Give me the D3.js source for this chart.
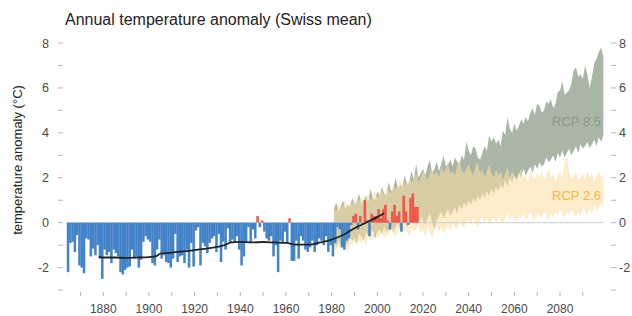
<!DOCTYPE html>
<html>
<head>
<meta charset="utf-8">
<script src="https://cdn.jsdelivr.net/npm/d3@7"></script>
<style>
  body { margin: 0; background: #fff; }
  svg { display: block; font-family: "Liberation Sans", Arial, sans-serif; }
</style>
</head>
<body>
<div id="chart-area"></div>
<script>
// Annual temperature anomaly (Swiss mean), values in °C

// observed annual anomalies, one per year from firstYear
const firstYear = 1864;
const observed = [
  -2.2, -0.9, -0.85, -1.3, -0.55, -1.9, -2.0, -2.25, -0.7, -0.75,   // 1864-1873
  -1.5, -1.15, -1.45, -1.0, -1.6, -2.5, -1.2, -1.45, -1.3, -1.8,    // 1874-1883
  -1.2, -1.35, -1.5, -2.2, -2.3, -2.1, -2.0, -1.95, -1.2, -1.6,     // 1884-1893
  -1.5, -2.0, -1.65, -0.85, -0.6, -0.75, -0.85, -1.8, -1.9, -1.2,   // 1894-1903
  -0.75, -1.6, -1.45, -1.75, -1.8, -2.0, -1.6, -0.5, -1.75, -1.5,   // 1904-1913
  -1.45, -1.8, -1.2, -2.0, -0.9, -1.95, -0.35, -0.2, -1.9, -0.9,    // 1914-1923
  -1.05, -1.35, -0.9, -0.7, -0.6, -1.3, -0.5, -1.75, -0.85, -1.2,   // 1924-1933
  -0.25, -0.9, -0.75, -0.9, -0.6, -1.2, -1.9, -1.5, -0.9, -0.2,     // 1934-1943
  -0.9, -0.3, -0.7, 0.3, -0.2, 0.1, -0.4, -0.7, -0.8, -0.6,         // 1944-1953
  -1.5, -1.0, -2.2, -0.8, -0.9, -0.4, -0.9, 0.2, -1.7, -1.7,        // 1954-1963
  -0.8, -1.6, -0.6, -0.8, -1.2, -1.3, -1.1, -0.8, -1.3, -1.0,       // 1964-1973
  -0.7, -0.8, -1.0, -0.6, -1.3, -1.0, -1.5, -0.9, -0.2, -0.3,       // 1974-1983
  -1.1, -1.2, -0.8, -0.7, -0.1, 0.3, 0.4, -0.3, 0.3, -0.1,          // 1984-1993
  1.0, 0.1, -0.6, 0.4, 0.3, 0.3, 0.6, 0.2, 0.6, 0.8,                // 1994-2003
  0.1, -0.3, 0.5, 0.8, 0.3, 0.5, -0.4, 1.2, 0.5, -0.1,              // 2004-2013
  1.1, 1.3, 0.7, 0.7                                                // 2014-2017
];

// smoothed observations (black line)
const smoothYears = [1878, 1880, 1885, 1890, 1895, 1900, 1903, 1905, 1910, 1915, 1920,
  1925, 1930, 1933, 1936, 1940, 1945, 1950, 1955, 1960, 1965, 1970, 1975, 1980,
  1985, 1990, 1995, 2000, 2003];
const smoothValues = [-1.52, -1.55, -1.55, -1.57, -1.55, -1.53, -1.5, -1.38, -1.33, -1.28, -1.22,
  -1.15, -1.08, -1.0, -0.88, -0.85, -0.88, -0.86, -0.88, -0.9, -0.98, -0.98, -0.88, -0.75,
  -0.55, -0.25, 0.0, 0.25, 0.42];

// scenario ranges, one value per year 1981-2099
const bandYears = d3.range(1981, 2100);
const rcp85Hi = [
  0.6, 0.9, 0.5, 0.7, 1.0, 0.6, 0.8, 0.7, 1.1, 0.8,
  0.9, 1.3, 0.8, 1.0, 1.2, 0.9, 1.5, 1.1, 1.0, 1.4,
  1.2, 1.6, 1.3, 1.2, 1.8, 1.4, 1.5, 2.0, 1.5, 1.7,
  1.6, 2.1, 1.7, 1.8, 2.3, 1.9, 2.6, 2.0, 2.2, 2.4,
  2.1, 2.5, 2.8, 2.2, 2.4, 2.7, 2.3, 2.6, 3.0, 2.5,
  2.6, 2.8, 2.5, 2.9, 2.7, 2.6, 3.0, 2.8, 3.6, 3.2,
  3.0, 3.4, 3.3, 2.9, 2.8, 3.1, 3.4, 3.2, 3.9, 3.6,
  3.8, 3.5, 3.7, 3.4, 4.1, 3.9, 4.7, 4.2, 4.0, 4.4,
  4.1, 4.3, 4.6, 4.4, 4.7, 4.5, 4.9, 5.1, 4.8, 5.3,
  5.2, 4.9, 5.0, 5.4, 5.3, 5.5, 5.1, 5.3, 5.8, 5.9,
  6.3, 5.7, 5.8, 5.9, 6.2, 6.8, 6.9, 6.5, 6.6, 6.4,
  7.0, 6.6, 6.0, 6.5, 7.1, 7.3, 7.6, 7.8, 7.4
];
const rcp85Lo = [
  -0.9, -1.1, -0.8, -1.0, -0.7, -0.9, -1.0, -0.6, -0.8, -0.7,
  -0.9, -0.5, -0.6, -0.8, -0.4, -0.6, -0.5, -0.3, -0.7, -0.4,
  -0.3, -0.5, -0.2, -0.4, -0.3, -0.1, -0.4, -0.2, 0.0, -0.3,
  -0.1, 0.1, -0.2, 0.0, 0.2, -0.1, 0.1, 0.0, 0.3, 0.1,
  -0.1, 0.2, 0.4, 0.0, -0.3, 0.1, 0.3, 0.5, 0.2, 0.4,
  0.6, 0.3, 0.5, 0.7, 0.4, 0.8, 0.6, 0.9, 0.7, 1.0,
  0.8, 1.1, 0.9, 1.2, 1.0, 1.3, 1.1, 1.4, 1.2, 1.5,
  1.3, 1.6, 1.4, 1.7, 1.5, 1.9, 1.6, 2.0, 1.8, 2.1,
  1.9, 2.2, 2.0, 2.4, 2.1, 2.3, 2.5, 2.2, 2.6, 2.4,
  2.7, 2.5, 2.6, 2.9, 2.7, 2.8, 3.0, 2.7, 3.1, 2.9,
  3.2, 2.9, 3.1, 3.3, 3.0, 3.2, 3.4, 3.1, 3.5, 3.3,
  3.4, 3.6, 3.3, 3.5, 3.7, 3.4, 3.8, 3.6, 3.9
];
const rcp26Hi = [
  0.7, 0.5, 0.9, 0.6, 0.8, 1.0, 0.7, 0.9, 0.8, 1.1,
  0.9, 1.0, 1.2, 0.9, 1.1, 1.3, 1.0, 1.2, 1.4, 1.1,
  1.3, 1.5, 1.2, 1.6, 1.4, 1.3, 1.7, 1.5, 1.6, 1.9,
  1.6, 1.8, 1.7, 2.0, 1.8, 1.9, 2.2, 1.8, 2.0, 2.3,
  2.1, 1.9, 2.2, 2.4, 2.1, 2.3, 2.0, 2.5, 2.2, 2.4,
  2.6, 2.2, 2.3, 2.1, 2.5, 2.8, 2.3, 2.2, 2.4, 2.6,
  2.3, 2.1, 2.5, 2.7, 2.2, 2.4, 2.0, 2.3, 2.6, 2.2,
  2.0, 2.4, 2.1, 2.3, 1.9, 2.2, 2.5, 2.0, 2.3, 2.1,
  1.9, 2.2, 2.4, 2.0, 2.1, 1.8, 2.3, 2.1, 1.9, 2.2,
  2.0, 2.3, 1.9, 2.1, 2.4, 2.0, 2.2, 1.8, 2.1, 2.3,
  2.0, 2.6, 3.0, 2.2, 1.9, 2.1, 2.3, 1.9, 2.0, 2.2,
  1.9, 2.3, 2.0, 2.2, 1.8, 2.1, 2.3, 2.0, 2.2
];
const rcp26Lo = [
  -1.1, -1.3, -1.0, -1.2, -0.9, -1.1, -1.3, -0.9, -1.0, -0.8,
  -1.0, -0.8, -0.9, -0.7, -1.0, -0.6, -0.8, -0.7, -0.5, -0.7,
  -0.6, -0.4, -0.7, -0.5, -0.6, -0.3, -0.5, -0.6, -0.4, -0.2,
  -0.5, -0.3, -0.4, -0.6, -0.2, -0.4, -0.3, -0.1, -0.5, -0.3,
  -0.6, -0.2, -0.4, -0.7, -0.3, -0.1, -0.4, -0.2, -0.5, -0.3,
  -0.1, -0.4, 0.0, -0.2, -0.3, 0.1, -0.1, -0.2, 0.0, 0.1,
  -0.1, 0.2, 0.0, -0.2, 0.1, 0.3, 0.0, 0.2, -0.1, 0.1,
  0.2, 0.0, 0.3, 0.1, -0.1, 0.2, 0.4, 0.1, 0.3, 0.2,
  0.0, 0.3, 0.2, 0.4, 0.1, 0.3, 0.5, 0.2, 0.1, 0.4,
  0.3, 0.2, 0.5, 0.3, 0.1, 0.4, 0.2, 0.5, 0.3, 0.6,
  0.4, 0.2, 0.5, 0.3, 0.6, 0.4, 0.2, 0.5, 0.3, 0.7,
  0.5, 0.3, 0.6, 0.4, 0.8, 0.5, 0.7, 0.9, 0.6
];

const yTicks = [-2, 0, 2, 4, 6, 8];
const yMinorTicks = [-3, -1, 1, 3, 5, 7];
const xTicks = d3.range(1870, 2100, 10);
const xLabels = [1880, 1900, 1920, 1940, 1960, 1980, 2000, 2020, 2040, 2060, 2080];

const width = 632;
const height = 316;

const svg = d3.select('#chart-area').append('svg')
  .attr('width', width)
  .attr('height', height);

// scales
const x = d3.scaleLinear().domain([1880, 2080]).range([103.3, 560]);
const y = d3.scaleLinear().domain([0, 8]).range([222.7, 43]);

// scenario bands
const band = (lo, hi) => d3.area()
  .x((d, i) => x(bandYears[i]))
  .y0((d, i) => y(lo[i]))
  .y1((d, i) => y(hi[i]));

svg.append('path')
  .attr('d', band(rcp85Lo, rcp85Hi)(bandYears))
  .attr('fill', '#a9b6a5');

svg.append('path')
  .attr('d', band(rcp26Lo, rcp26Hi)(bandYears))
  .attr('fill', '#f9dea2')
  .attr('fill-opacity', 0.58);

// zero line
svg.append('line')
  .attr('x1', x(firstYear)).attr('x2', x(2099))
  .attr('y1', y(0)).attr('y2', y(0))
  .attr('stroke', '#cccccc')
  .attr('stroke-width', 1);

// annual bars
const obs = observed.map((v, i) => ({ year: firstYear + i, value: v }));
svg.append('g').selectAll('rect')
  .data(obs)
  .enter().append('rect')
  .attr('x', d => x(d.year))
  .attr('width', d => x(d.year + 1) - x(d.year) + 0.25)
  .attr('y', d => Math.min(y(d.value), y(0)))
  .attr('height', d => Math.abs(y(d.value) - y(0)))
  .attr('fill', d => d.value >= 0 ? '#f0564a' : '#4383c8');

// smoothed line
const line = d3.line()
  .x((d, i) => x(smoothYears[i]))
  .y(d => y(d))
  .curve(d3.curveMonotoneX);

svg.append('path')
  .attr('d', line(smoothValues))
  .attr('fill', 'none')
  .attr('stroke', '#222')
  .attr('stroke-width', 1.8);

// y axes (left and right)
const tickColor = '#b5b5b5';
const labelColor = '#4a4a4a';

[[58, 63, 49, 'end'], [611, 616, 619, 'start']].forEach(([t1, t2, lx, anchor]) => {
  const g = svg.append('g');
  g.selectAll('line')
    .data(yTicks.concat(yMinorTicks))
    .enter().append('line')
    .attr('x1', t1).attr('x2', t2)
    .attr('y1', d => y(d)).attr('y2', d => y(d))
    .attr('stroke', tickColor);
  g.selectAll('text')
    .data(yTicks)
    .enter().append('text')
    .attr('x', lx)
    .attr('y', d => y(d) + 4.5)
    .attr('text-anchor', anchor)
    .attr('font-size', '12.5px')
    .attr('fill', labelColor)
    .text(d => d);
});

// x axis
const xg = svg.append('g');
xg.selectAll('line')
  .data(xTicks)
  .enter().append('line')
  .attr('x1', d => x(d)).attr('x2', d => x(d))
  .attr('y1', 292).attr('y2', 296)
  .attr('stroke', tickColor);
xg.selectAll('text')
  .data(xLabels)
  .enter().append('text')
  .attr('x', d => x(d))
  .attr('y', 313)
  .attr('text-anchor', 'middle')
  .attr('font-size', '12px')
  .attr('fill', labelColor)
  .text(d => d);

// labels
svg.append('text')
  .attr('x', 65)
  .attr('y', 25)
  .attr('font-size', '16px')
  .attr('fill', '#222')
  .text('Annual temperature anomaly (Swiss mean)');

svg.append('text')
  .attr('transform', 'translate(22, 160) rotate(-90)')
  .attr('text-anchor', 'middle')
  .attr('font-size', '13px')
  .attr('fill', '#222')
  .text('temperature anomaly (°C)');

svg.append('text')
  .attr('x', 601).attr('y', 126)
  .attr('text-anchor', 'end')
  .attr('font-size', '13px')
  .attr('fill', '#8c978b')
  .text('RCP 8.5');

svg.append('text')
  .attr('x', 601).attr('y', 200)
  .attr('text-anchor', 'end')
  .attr('font-size', '13px')
  .attr('fill', '#f5b945')
  .text('RCP 2.6');
</script>
</body>
</html>
